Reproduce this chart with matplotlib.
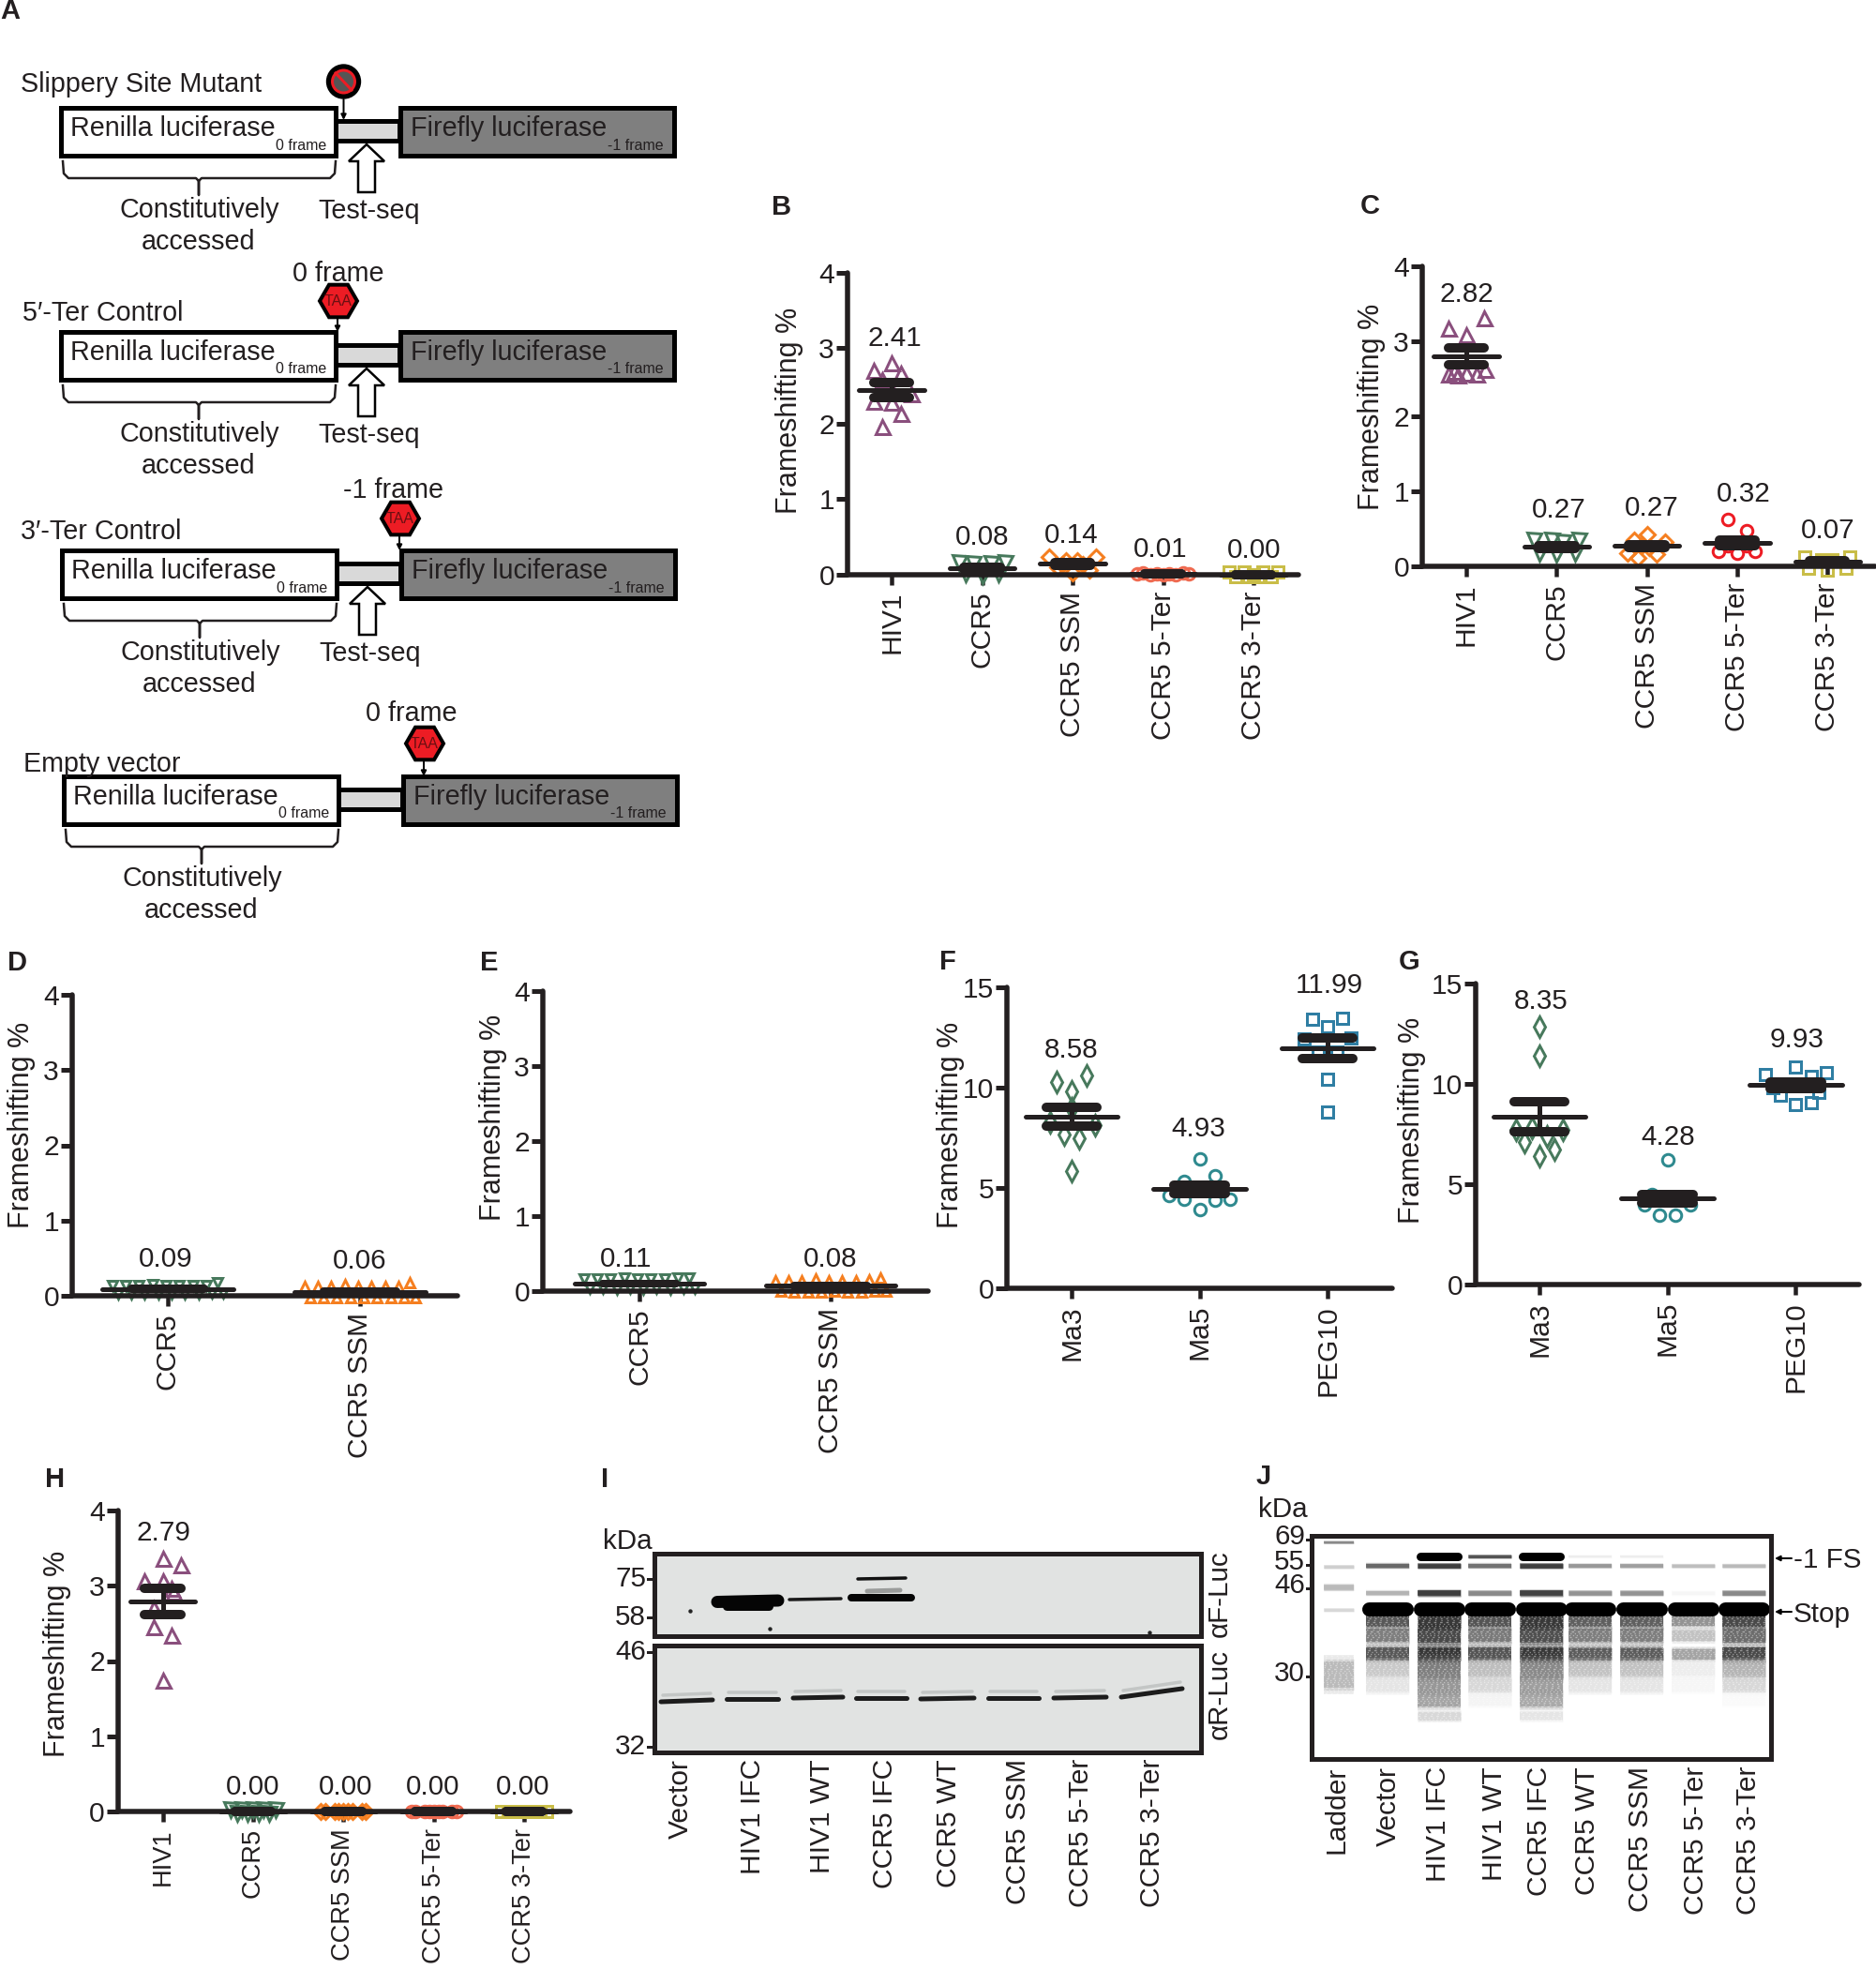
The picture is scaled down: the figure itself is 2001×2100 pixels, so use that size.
import matplotlib
matplotlib.use('Agg')
import matplotlib.pyplot as plt
from matplotlib.patches import Rectangle, Polygon, RegularPolygon, Circle
from matplotlib.transforms import ScaledTranslation

plt.rcParams['font.family'] = ['Liberation Sans', 'DejaVu Sans']

W, H = 2001, 2100
INK = '#231f20'
PURPLE = '#8a4f7d'
GREEN = '#47795c'
ORANGE = '#f57f20'
SALMON = '#ef6a50'
YELLOW = '#c9bd48'
RED = '#ed1c24'
TEAL = '#2f8a8f'
BLUE = '#2f7ea3'

five_cats = ['HIV1', 'CCR5', 'CCR5 SSM', 'CCR5 5-Ter', 'CCR5 3-Ter']
two_cats = ['CCR5', 'CCR5 SSM']
ma_cats = ['Ma3', 'Ma5', 'PEG10']

# panel B
b_means = [2.44, 0.08, 0.14, 0.01, 0.00]
b_sems = [0.10, 0.015, 0.02, 0.00, 0.00]
b_labels = ['2.41', '0.08', '0.14', '0.01', '0.00']
b_label_y = [3.13, 0.49, 0.52, 0.33, 0.32]
b_label_dx = [0.04, 0, -0.01, -0.03, 0.01]
b_y = [[2.70, 2.80, 2.67, 2.58, 2.28, 2.30, 2.13, 1.96, 2.40, 2.45],
       [0.15, 0.15, 0.14, 0.14, -0.02, 0.01, 0.01],
       [0.23, 0.23, 0.18, 0.18, 0.09, 0.06, 0.02, 0.13, 0.13],
       [0.01, 0.02, 0.00, 0.01, 0.00, 0.01, 0.00, 0.02, 0.01],
       [0.03, -0.03, 0.03, -0.03, 0.00, -0.03, 0.03, -0.03, 0.03]]
b_dx = [[-0.20, 0, 0.10, -0.10, 0, -0.20, 0.10, -0.10, 0.22, 0],
        [-0.25, 0.25, -0.10, 0.10, 0, -0.18, 0.18],
        [-0.26, 0.26, -0.07, 0.05, -0.17, 0.19, 0, -0.11, 0.11],
        [-0.28, -0.22, -0.14, -0.07, 0, 0.07, 0.14, 0.22, 0.28],
        [-0.27, -0.20, -0.10, -0.05, 0, 0.05, 0.10, 0.20, 0.27]]

# panel C
c_means = [2.80, 0.26, 0.27, 0.31, 0.06]
c_sems = [0.11, 0.02, 0.02, 0.04, 0.015]
c_labels = ['2.82', '0.27', '0.27', '0.32', '0.07']
c_label_y = [3.63, 0.75, 0.78, 0.96, 0.47]
c_label_dx = [0, 0.03, 0.05, 0.07, 0]
c_y = [[3.18, 3.31, 3.09, 2.56, 2.55, 2.58, 2.56, 2.62, 2.60],
       [0.35, 0.35, 0.33, 0.35, 0.18, 0.16, 0.17],
       [0.43, 0.35, 0.32, 0.17, 0.11, 0.16, 0.28, 0.25],
       [0.63, 0.47, 0.20, 0.18, 0.20, 0.28, 0.28],
       [0.13, 0.13, 0.09, 0.09, -0.02, -0.05, -0.02]]
c_dx = [[-0.20, 0.20, 0, -0.20, -0.09, 0, 0.11, 0.21, -0.14],
        [-0.25, -0.05, 0.07, 0.25, -0.19, 0, 0.20],
        [0, -0.14, 0.20, -0.21, -0.10, 0.11, -0.06, 0.03],
        [-0.10, 0.10, -0.21, 0, 0.20, -0.10, 0.10],
        [-0.25, 0.25, -0.06, 0.05, -0.21, 0, 0.21]]

# panel D
d_means = [0.09, 0.055]
d_sems = [0.005, 0.005]
d_labels = ['0.09', '0.06']
d_label_y = [0.49, 0.46]
d_y = [[0.14, 0.03, 0.14, 0.03, 0.14, 0.02, 0.15, 0.03, 0.14, 0.02, 0.14, 0.03, 0.14, 0.02, 0.14, 0.04, 0.17, 0.04],
       [0.12, -0.02, 0.12, -0.03, 0.13, -0.03, 0.15, -0.03, 0.12, -0.02, 0.13, -0.03, 0.12, -0.03, 0.13, -0.02, 0.18, -0.02]]
d_dx = [[-0.29, -0.26, -0.22, -0.19, -0.15, -0.12, -0.08, -0.05, -0.01, 0.02, 0.06, 0.09, 0.13, 0.16, 0.20, 0.23, 0.26, 0.29],
        [-0.29, -0.26, -0.22, -0.19, -0.15, -0.12, -0.08, -0.05, -0.01, 0.02, 0.06, 0.09, 0.13, 0.16, 0.20, 0.23, 0.26, 0.29]]

# panel E
e_means = [0.10, 0.07]
e_sems = [0.005, 0.005]
e_labels = ['0.11', '0.08']
e_label_y = [0.42, 0.42]
e_label_dx = [-0.07, 0]
e_y = [[0.16, 0.04, 0.16, 0.04, 0.16, 0.03, 0.17, 0.04, 0.16, 0.03, 0.16, 0.04, 0.16, 0.03, 0.17, 0.04, 0.17, 0.04],
       [0.14, 0.00, 0.14, -0.01, 0.14, -0.01, 0.16, -0.01, 0.14, 0.00, 0.14, -0.01, 0.14, -0.01, 0.15, 0.00, 0.18, 0.00]]
e_dx = d_dx

# panel F
f_means = [8.55, 4.93, 11.97]
f_sems = [0.48, 0.22, 0.50]
f_labels = ['8.58', '4.93', '11.99']
f_label_y = [11.85, 7.96, 15.08]
f_label_dx = [0, -0.01, 0.01]
f_y = [[10.27, 10.60, 9.83, 8.97, 8.27, 8.12, 7.68, 7.47, 5.86],
       [6.44, 5.35, 5.60, 4.62, 4.42, 4.39, 4.46, 3.92, 5.00],
       [13.40, 13.44, 13.02, 12.44, 12.50, 11.77, 11.77, 10.40, 8.80]]
f_dx = [[-0.12, 0.12, 0, 0, -0.17, 0.18, -0.06, 0.06, 0],
        [0, -0.12, 0.12, -0.24, -0.12, 0.12, 0.24, 0, 0],
        [-0.12, 0.12, 0, -0.18, 0.18, -0.07, 0.07, 0, 0]]

# panel G
g_means = [8.35, 4.28, 9.94]
g_sems = [0.74, 0.22, 0.16]
g_labels = ['8.35', '4.28', '9.93']
g_label_y = [14.13, 7.32, 12.18]
g_label_dx = [0.01, 0, 0.01]
g_y = [[12.85, 11.40, 7.71, 7.71, 7.80, 7.40, 7.09, 6.73, 6.42],
       [6.23, 3.97, 3.97, 3.46, 3.46, 4.30, 4.50],
       [10.48, 10.83, 10.56, 10.36, 9.42, 8.96, 9.07, 9.80, 9.60]]
g_dx = [[0, 0, -0.18, 0.18, -0.06, 0.06, -0.12, 0.12, 0],
        [0, -0.18, 0.18, -0.06, 0.06, 0, -0.12],
        [-0.24, 0, 0.24, 0.12, -0.12, 0, 0.12, -0.18, 0.18]]

# panel H
h_means = [2.79, 0.00, 0.00, 0.00, 0.00]
h_sems = [0.175, 0.00, 0.00, 0.00, 0.00]
h_labels = ['2.79', '0.00', '0.00', '0.00', '0.00']
h_label_y = [3.70, 0.32, 0.32, 0.32, 0.32]
h_label_dx = [0.01, 0, 0.02, -0.01, -0.02]
h_y = [[3.37, 3.28, 3.06, 3.07, 2.97, 2.70, 2.45, 2.34, 1.74, 2.92],
       [0.03, -0.03, 0.03, -0.03, 0.03, -0.03, 0.03, -0.03, 0.03],
       [0.00, 0.00, 0.00, 0.00, 0.00, 0.00, 0.00, 0.00, 0.00],
       [0.00, 0.00, 0.00, 0.00, 0.00, 0.00, 0.00, 0.00, 0.00],
       [0.00, 0.00, 0.00, 0.00, 0.00, 0.00, 0.00, 0.00, 0.00]]
h_dx = [[0, 0.20, -0.20, 0, 0.10, -0.10, -0.10, 0.10, 0, 0.12],
        [-0.25, -0.18, -0.12, -0.06, 0, 0.06, 0.12, 0.18, 0.25],
        [-0.25, -0.20, -0.10, -0.05, 0, 0.05, 0.10, 0.20, 0.25],
        [-0.25, -0.20, -0.10, -0.05, 0, 0.05, 0.10, 0.20, 0.25],
        [-0.25, -0.18, -0.12, -0.06, 0, 0.06, 0.12, 0.18, 0.25]]

# western blot, lanes and bands
wb_labels = ['Vector', 'HIV1 IFC', 'HIV1 WT', 'CCR5 IFC', 'CCR5 WT', 'CCR5 SSM', 'CCR5 5-Ter', 'CCR5 3-Ter']
wb_label_x = [726, 803, 877, 944, 1012, 1086, 1153, 1229]
wb_lane_l = [705, 775, 846, 913, 982, 1054, 1124, 1196]
wb_lane_r = [760, 830, 899, 967, 1039, 1108, 1180, 1261]
wb_lane_y = [1815, 1812, 1811, 1811, 1812, 1811, 1811, 1810]
wb_lane_y2 = [1813, 1812, 1810, 1811, 1811, 1811, 1810, 1801]
wb_kda = ['75', '58', '46', '32']
wb_kda_y = [1684, 1725, 1762, 1863]

# autoradiograph, darkness of each band per lane
gel_labels = ['Ladder', 'Vector', 'HIV1 IFC', 'HIV1 WT', 'CCR5 IFC', 'CCR5 WT', 'CCR5 SSM', 'CCR5 5-Ter', 'CCR5 3-Ter']
gel_label_x = [1426, 1481, 1534, 1594, 1642, 1693, 1750, 1809, 1865]
gel_lane_x = [1480, 1535, 1589, 1644, 1696, 1751, 1806, 1860]
gel_band_y = [1660, 1670, 1699, 1716, 1729, 1744, 1764, 1780, 1797, 1812, 1830]
gel_band_h = [9, 5, 6, 15, 13, 17, 15, 24, 24, 22, 14]
gel_dark = [[0.00, 0.70, 0.35, 1.00, 0.78, 0.60, 0.78, 0.25, 0.12, 0.00, 0.00],
            [1.00, 0.90, 0.90, 1.00, 0.93, 0.85, 0.94, 0.60, 0.48, 0.42, 0.18],
            [0.80, 0.65, 0.55, 1.00, 0.80, 0.62, 0.80, 0.30, 0.18, 0.05, 0.00],
            [1.00, 0.90, 0.88, 1.00, 0.93, 0.82, 0.93, 0.55, 0.45, 0.40, 0.12],
            [0.08, 0.48, 0.50, 1.00, 0.75, 0.60, 0.76, 0.28, 0.12, 0.00, 0.00],
            [0.08, 0.45, 0.50, 1.00, 0.75, 0.60, 0.76, 0.28, 0.12, 0.00, 0.00],
            [0.00, 0.30, 0.04, 1.00, 0.50, 0.28, 0.42, 0.08, 0.04, 0.00, 0.00],
            [0.00, 0.32, 0.55, 1.00, 0.85, 0.68, 0.85, 0.35, 0.18, 0.02, 0.00]]
ladder_y = [1645, 1671, 1693, 1717, 1786]
ladder_h = [3, 5, 8, 5, 40]
ladder_dark = [0.55, 0.22, 0.32, 0.18, 0.32]
gel_kda = ['69', '55', '46', '30']
gel_kda_y = [1639, 1666, 1691, 1785]


def px(p):
    return p * 0.72


fig = plt.figure(figsize=(W / 100, H / 100), dpi=100)
over = fig.add_axes([0, 0, 1, 1])
over.set_xlim(0, W)
over.set_ylim(H, 0)
over.axis('off')

FS = 21.3
A_FS = 20.7
mark_size = {'^': 15, 'v': 15, 'D': 11.5, 'o': 12.5, 's': 12, 'd': 15}


def txt(x, y, s, fs=FS, ha='center', va='center', **kw):
    over.text(x, y, s, fontsize=fs, ha=ha, va=va, color=INK, **kw)


def dot_plot(rect, ymax, yticks, cats, points, dx, means, sems, labels, label_y,
             label_dx, colors, markers, cap=0.20, wide=0.36, scale=1.0, cap_lw=10, lab_px=None,
             cat_fs=FS + 0.3):
    # rect is axis x, top y, zero y, right end, first category x, category step, all in pixels
    ax_x, top, zero, right, c0, step = rect
    ax = fig.add_axes([ax_x / W, 1 - zero / H, (right - ax_x) / W, (zero - top) / H])
    ax.patch.set_alpha(0)
    ax.set_xlim((ax_x - c0) / step, (right - c0) / step)
    ax.set_ylim(0, ymax)
    for i in range(len(cats)):
        xs = [i + d for d in dx[i]]
        ax.plot(xs, points[i], ls='none', marker=markers[i], ms=px(mark_size[markers[i]] * scale),
                mfc='none', mec=colors[i], mew=px(3), clip_on=False, zorder=2)
        ax.plot([i - wide, i + wide], [means[i], means[i]], color=INK, lw=px(5),
                solid_capstyle='round', clip_on=False, zorder=3)
        hi = means[i] + sems[i]
        lo = means[i] - sems[i]
        ax.plot([i, i], [lo, hi], color=INK, lw=px(5), clip_on=False, zorder=3)
        for v in (lo, hi):
            ax.plot([i - cap, i + cap], [v, v], color=INK, lw=px(cap_lw),
                    solid_capstyle='round', clip_on=False, zorder=3)
        ax.text(i + label_dx[i], label_y[i], labels[i], fontsize=FS, ha='center',
                va='center', color=INK, clip_on=False)
    for s in ('top', 'right'):
        ax.spines[s].set_visible(False)
    for s in ('left', 'bottom'):
        ax.spines[s].set_linewidth(px(5.5))
        ax.spines[s].set_color(INK)
        ax.spines[s].set_capstyle('round')
    ax.set_yticks(yticks)
    ax.set_xticks(range(len(cats)))
    ax.set_xticklabels(cats, rotation=90, fontsize=cat_fs, color=INK)
    if lab_px:
        for lab, d in zip(ax.get_xticklabels(), lab_px):
            lab.set_transform(lab.get_transform() + ScaledTranslation(d / 100, 0, fig.dpi_scale_trans))
    ax.tick_params(axis='y', length=px(12), width=px(5), labelsize=FS + 0.3, pad=px(2),
                   colors=INK)
    ax.tick_params(axis='x', length=px(11), width=px(4.5), pad=px(7), colors=INK)
    return ax


five_colors = [PURPLE, GREEN, ORANGE, SALMON, YELLOW]
five_marks = ['^', 'v', 'D', 'o', 's']
c_colors = [PURPLE, GREEN, ORANGE, RED, YELLOW]
ma_colors = [GREEN, TEAL, BLUE]
ma_marks = ['d', 'o', 's']
ticks4 = [0, 1, 2, 3, 4]
ticks15 = [0, 5, 10, 15]

dot_plot((904, 291, 612.5, 1385, 951, 96.5), 4, ticks4, five_cats, b_y, b_dx, b_means,
         b_sems, b_labels, b_label_y, b_label_dx, five_colors, five_marks)
dot_plot((1517, 284, 604, 2000, 1564, 96.3), 4, ticks4, five_cats, c_y, c_dx, c_means,
         c_sems, c_labels, c_label_y, c_label_dx, c_colors, five_marks)
dot_plot((77, 1061, 1382, 488, 179, 205), 4, ticks4, two_cats, d_y, d_dx, d_means,
         d_sems, d_labels, d_label_y, [-0.01, 0], [GREEN, ORANGE], ['v', '^'], cap=0.19, wide=0.34,
         scale=0.72, cap_lw=8, lab_px=[-4, 7])
dot_plot((579, 1057, 1377, 990, 682, 204), 4, ticks4, two_cats, e_y, e_dx, e_means,
         e_sems, e_labels, e_label_y, e_label_dx, [GREEN, ORANGE], ['v', '^'], cap=0.19, wide=0.34,
         scale=0.72, cap_lw=8, lab_px=[-5, 8])
dot_plot((1074, 1053, 1374, 1485, 1143, 136.5), 15, ticks15, ma_cats, f_y, f_dx, f_means,
         f_sems, f_labels, f_label_y, f_label_dx, ma_colors, ma_marks)
dot_plot((1574, 1049, 1370, 1983, 1642, 136.7), 15, ticks15, ma_cats, g_y, g_dx, g_means,
         g_sems, g_labels, g_label_y, g_label_dx, ma_colors, ma_marks)
dot_plot((126, 1611, 1932, 608, 173.5, 96.4), 4, ticks4, five_cats, h_y, h_dx, h_means,
         h_sems, h_labels, h_label_y, h_label_dx, five_colors, five_marks, cat_fs=19.6)

# y labels
ylabel_xy = [(842, 438), (1463, 434), (23, 1200), (526, 1192), (1014, 1200), (1506, 1195), (61, 1764)]
for x, y in ylabel_xy:
    txt(x, y, 'Frameshifting %', fs=22, rotation=90)

# panel letters
letters = ['A', 'B', 'C', 'D', 'E', 'F', 'G', 'H', 'I', 'J']
letter_xy = [(11, 12), (834, 221), (1461, 220), (19, 1027), (522, 1027), (1011, 1026),
             (1503, 1026), (59, 1578), (645, 1578), (1348, 1575)]
for s, (x, y) in zip(letters, letter_xy):
    txt(x, y, s, fs=21, fontweight='bold')

# panel A constructs
ctr_dy = [0, 239, 472, 713]
ctr_dx = [0, 0, 1, 3]
ctr_name = ['Slippery Site Mutant', '5\u2032-Ter Control', '3\u2032-Ter Control', 'Empty vector']
ctr_name_xy = [(22, 90), (24, 334), (22, 567), (25, 815)]
stop_xy = [None, (361, 321), (427, 553), (453, 793)]
stop_txt = [None, '0 frame', '-1 frame', '0 frame']
stop_txt_xy = [None, (361, 292), (420, 523), (439, 761)]

for k in range(4):
    dy, dx = ctr_dy[k], ctr_dx[k]
    over.add_patch(Rectangle((358 + dx, 129 + dy), 68, 21, fc='#d9d9d9', ec='k', lw=px(5)))
    over.add_patch(Rectangle((65 + dx, 115 + dy), 293, 51, fc='white', ec='k', lw=px(5)))
    over.add_patch(Rectangle((427 + dx, 115 + dy), 292, 51, fc='#7f7f7f', ec='k', lw=px(5)))
    txt(75 + dx, 137 + dy, 'Renilla luciferase', fs=A_FS, ha='left')
    txt(348 + dx, 155 + dy, '0 frame', fs=11.5, ha='right')
    txt(438 + dx, 137 + dy, 'Firefly luciferase', fs=A_FS, ha='left')
    txt(708 + dx, 155 + dy, '-1 frame', fs=11.5, ha='right')
    txt(ctr_name_xy[k][0], ctr_name_xy[k][1], ctr_name[k], fs=A_FS, ha='left')
    # brace
    bx = [67 + dx, 68 + dx, 73 + dx, 209 + dx, 212 + dx, 212 + dx, 212 + dx, 215 + dx, 352 + dx, 357 + dx, 358 + dx]
    by = [172, 185, 190, 190, 193, 208, 193, 190, 190, 185, 172]
    over.plot(bx, [v + dy for v in by], color=INK, lw=px(2.5))
    txt(213 + dx, 224 + dy, 'Constitutively', fs=A_FS)
    txt(212 + dx, 258 + dy, 'accessed', fs=A_FS)
    if k < 3:
        txt(394 + dx, 225 + dy, 'Test-seq', fs=A_FS)
        ax_ = 391 + dx
        over.add_patch(Polygon([(ax_, 154 + dy), (ax_ + 19, 172 + dy), (ax_ + 9, 172 + dy), (ax_ + 9, 205 + dy),
                                (ax_ - 9, 205 + dy), (ax_ - 9, 172 + dy), (ax_ - 19, 172 + dy)],
                               fc='white', ec='k', lw=px(2.5)))
    if k == 0:
        over.add_patch(Circle((366.5, 87), 18, fc='k', ec='k'))
        over.add_patch(Circle((366.5, 87), 12, fc='#555555', ec=RED, lw=px(3)))
        over.plot([358, 375], [78, 96], color=RED, lw=px(3))
        over.annotate('', xy=(366.5, 128), xytext=(366.5, 106),
                      arrowprops=dict(arrowstyle='-|>', color='k', lw=px(2), mutation_scale=8, shrinkA=0, shrinkB=0))
    else:
        sx, sy = stop_xy[k]
        over.add_patch(RegularPolygon((sx, sy), 6, radius=20, orientation=0.5236, fc=RED, ec='k', lw=px(4)))
        over.text(sx, sy, 'TAA', fontsize=11.5, color='#6b0f12', ha='center', va='center')
        over.annotate('', xy=(sx - 1, 115 + dy), xytext=(sx - 1, sy + 17),
                      arrowprops=dict(arrowstyle='-|>', color='k', lw=px(2), mutation_scale=8, shrinkA=0, shrinkB=0))
        txt(stop_txt_xy[k][0], stop_txt_xy[k][1], stop_txt[k], fs=A_FS)

# panel I
GREY = '#e1e3e2'
over.add_patch(Rectangle((698, 1657), 583, 88, fc=GREY, ec=INK, lw=px(5)))
over.add_patch(Rectangle((698, 1755), 583, 114, fc=GREY, ec=INK, lw=px(5)))
over.plot([765, 830], [1708.5, 1707], color='#050505', lw=px(13), solid_capstyle='round')
over.plot([775, 820], [1713, 1713], color='#050505', lw=px(9), solid_capstyle='round')
over.plot([842, 897], [1706, 1705], color='#1a1a1a', lw=px(3.5), solid_capstyle='round')
over.plot([908, 972], [1703.5, 1703.5], color='#050505', lw=px(8), solid_capstyle='round')
over.plot([925, 960], [1697, 1696], color='#9a9c9b', lw=px(5), solid_capstyle='round')
over.plot([915, 966], [1684, 1683], color='#111111', lw=px(3.5), solid_capstyle='round')
for l, r, y, y2 in zip(wb_lane_l, wb_lane_r, wb_lane_y, wb_lane_y2):
    over.plot([l, r], [y, y2], color='#1c1c1c', lw=px(5), solid_capstyle='round')
    over.plot([l + 2, r - 2], [y - 7, y2 - 7], color='#c3c6c5', lw=px(3.5), solid_capstyle='round')
over.plot([736, 821, 1226], [1718, 1737, 1741], ls='none', marker='o', ms=px(3), color='#222222')
for s, y in zip(wb_kda, wb_kda_y):
    txt(689, y, s, ha='right')
    over.plot([691, 695], [y, y], color=INK, lw=px(3))
txt(669, 1644, 'kDa')
txt(1301, 1700, '\u03b1F-Luc', rotation=90)
txt(1301, 1807, '\u03b1R-Luc', rotation=90)
for s, x in zip(wb_labels, wb_label_x):
    txt(x, 1876, s, fs=FS + 0.3, rotation=90, va='top')

# panel J
over.add_patch(Rectangle((1399, 1638), 490, 238, fc='none', ec=INK, lw=px(5), zorder=5))


def soft_band(x0, x1, y, h, d, z=2):
    g = str(round(1 - d * 0.98, 3))
    if d >= 0.99:
        over.plot([x0 + 3, x1 - 3], [y, y], color='k', lw=px(h), solid_capstyle='round', zorder=z + 2)
        return
    for f, a in ((1.5, 0.25), (1.2, 0.35), (1.0, 0.7)):
        over.plot([x0, x1], [y, y], color=g, lw=px(h * f * (0.55 + 0.45 * d)), alpha=a,
                  solid_capstyle='butt', zorder=z)


for i, x in enumerate(gel_lane_x):
    for j, (y, h, d) in enumerate(zip(gel_band_y, gel_band_h, gel_dark[i])):
        if d > 0:
            if j == 0 and d < 1:
                h = 3.5
            soft_band(x - 23, x + 23, y, h, d)
for y, h, d in zip(ladder_y, ladder_h, ladder_dark):
    soft_band(1412, 1444, y, h, d)

# grain over the smears
grain = [(1, 2), (1.5, 3), (1, 4), (2, 3), (1, 2.5)]
for n, y in enumerate(range(1724, 1840, 2)):
    over.plot([1403, 1885], [y, y], color='white', lw=px(1.3), alpha=0.42, zorder=3,
              ls=(n % 4, grain[n % 5]))

for s, y in zip(gel_kda, gel_kda_y):
    txt(1392, y, s, ha='right')
    over.plot([1394, 1398], [y + 3, y + 3], color=INK, lw=px(3))
txt(1368, 1610, 'kDa')
for s, x in zip(gel_labels, gel_label_x):
    txt(x, 1884, s, fs=FS + 0.3, rotation=90, va='top')
txt(1913, 1664, '-1 FS', ha='left')
txt(1913, 1722, 'Stop', ha='left')
for y in (1662, 1719):
    over.annotate('', xy=(1893, y), xytext=(1911, y),
                  arrowprops=dict(arrowstyle='-|>', color='k', lw=px(2), mutation_scale=8, shrinkA=0, shrinkB=0))

plt.savefig('out.png', dpi=100)
